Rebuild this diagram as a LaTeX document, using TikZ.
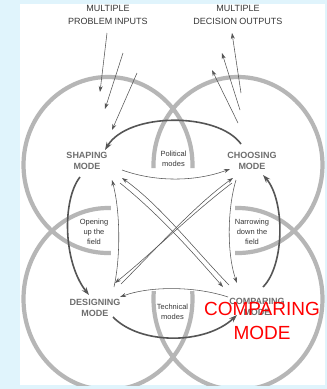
\documentclass[tikz,border=0pt]{standalone}
\usepackage{fontspec}
\setmainfont{Liberation Sans}
\usetikzlibrary{arrows.meta,calc}
\definecolor{pagebg}{RGB}{224,244,252}
\definecolor{ringgray}{RGB}{182,182,182}
\definecolor{flowdark}{RGB}{85,85,85}
\definecolor{labelgray}{RGB}{110,110,110}
\definecolor{textdark}{RGB}{55,55,55}
\definecolor{alertred}{RGB}{255,0,0}
\tikzset{
  ring/.style={draw=ringgray, line width=4.2pt},
  mainflow/.style={draw=flowdark, line width=1.6pt, -{Stealth[length=8pt,width=5.5pt]}},
  sideflow/.style={draw=flowdark, line width=0.55pt, -{Stealth[length=6pt,width=4pt]}},
  modelabel/.style={font=\fontsize{9}{11}\selectfont\bfseries, text=labelgray, align=center, inner sep=0pt},
  lenslabel/.style={font=\fontsize{7.5}{10}\selectfont, text=textdark, align=center, inner sep=0pt},
  headlabel/.style={font=\fontsize{9}{13.5}\selectfont, text=textdark, align=center, inner sep=0pt},
  alertlabel/.style={font=\fontsize{19}{24}\selectfont, text=alertred, align=center, inner sep=0pt},
}
\begin{document}
\begin{tikzpicture}[x=1pt,y=-1pt]
\useasboundingbox (0,0) rectangle (327,389);
\fill[pagebg] (0,0) rectangle (327,389);
\fill[white] (20,4) rectangle (325,385);

% the four mode rings, each left open towards the middle
\begin{scope}
  \clip (20,4) rectangle (325,385);
  \draw[ring] (108,165) ++(2:84.5 and 88) arc[start angle=2, end angle=-272, x radius=84.5, y radius=88];
  \draw[ring] (238,165) ++(178:84.5 and 88) arc[start angle=178, end angle=452, x radius=84.5, y radius=88];
  \draw[ring] (108,299) ++(-88:84.5 and 91) arc[start angle=-88, end angle=-365, x radius=84.5, y radius=91];
  \draw[ring] (238,299) ++(268:84.5 and 91) arc[start angle=268, end angle=545, x radius=84.5, y radius=91];
\end{scope}

% labels
\node[headlabel] (inputs) at (108,15) {MULTIPLE\\PROBLEM INPUTS};
\node[headlabel] (outputs) at (238,15) {MULTIPLE\\DECISION OUTPUTS};
\node[modelabel] (shaping) at (87,161) {SHAPING\\MODE};
\node[modelabel] (choosing) at (252,161) {CHOOSING\\MODE};
\node[modelabel] (designing) at (95,308) {DESIGNING\\MODE};
\node[modelabel] (comparing) at (257,307) {COMPARING\\MODE};
\node[lenslabel] (political) at (173.5,159) {Political\\modes};
\node[lenslabel] (technical) at (172.5,312) {Technical\\modes};
\node[lenslabel] (opening) at (94,232) {Opening\\up the\\field};
\node[lenslabel] (narrowing) at (252,232) {Narrowing\\down the\\field};

% problem inputs and decision outputs
\draw[sideflow] ($(inputs)+(-1,18)$) -- ($(shaping)+(13,-69)$);
\draw[sideflow] ($(inputs)+(15,38)$) -- ($(shaping)+(18,-52)$);
\draw[sideflow] ($(inputs)+(29,58)$) -- ($(shaping)+(25,-31)$);
\draw[sideflow] ($(choosing)+(-11,-68)$) -- ($(outputs)+(-6,18)$);
\draw[sideflow] ($(choosing)+(-12,-51)$) -- ($(outputs)+(-16,38)$);
\draw[sideflow] ($(choosing)+(-14,-38)$) -- ($(outputs)+(-26,55)$);

% main cycle between the modes
\draw[mainflow] ($(choosing)+(-11,-17)$) .. controls (218,112) and (128,112) .. ($(shaping)+(18,-11)$);
\draw[mainflow] ($(shaping)+(-7,16)$) .. controls (62,200) and (63,262) .. ($(designing)+(-6,-13)$);
\draw[mainflow] ($(designing)+(18,9)$) .. controls (140,345) and (205,345) .. ($(comparing)+(-20,8)$);
\draw[mainflow] ($(comparing)+(6,-20)$) .. controls (285,265) and (285,200) .. ($(choosing)+(11,14)$);

% secondary links
\draw[sideflow] ($(shaping)+(35,9)$) .. controls (155,182) and (195,182) .. ($(choosing)+(-22,8)$);
\draw[sideflow] ($(comparing)+(-29,-10)$) .. controls (195,286) and (150,286) .. ($(designing)+(25,-11)$);
\draw[sideflow] ($(designing)+(19,-21)$) .. controls (121,255) and (120,210) .. ($(shaping)+(25,19)$);
\draw[sideflow] ($(choosing)+(-16,19)$) .. controls (227,210) and (227,255) .. ($(comparing)+(-20,-24)$);
\draw[sideflow] ($(shaping)+(33,22)$) .. controls (160,215) and (195,255) .. ($(comparing)+(-34,-20)$);
\draw[sideflow] ($(comparing)+(-28,-22)$) .. controls (195,250) and (160,205) .. ($(shaping)+(35,17)$);
\draw[sideflow] ($(choosing)+(-20,22)$) .. controls (190,215) and (150,255) .. ($(designing)+(20,-25)$);
\draw[sideflow] ($(designing)+(26,-24)$) .. controls (155,250) and (195,205) .. ($(choosing)+(-19,17)$);

\node[alertlabel] (overlay) at (262,321) {COMPARING\\MODE};
\end{tikzpicture}
\end{document}
